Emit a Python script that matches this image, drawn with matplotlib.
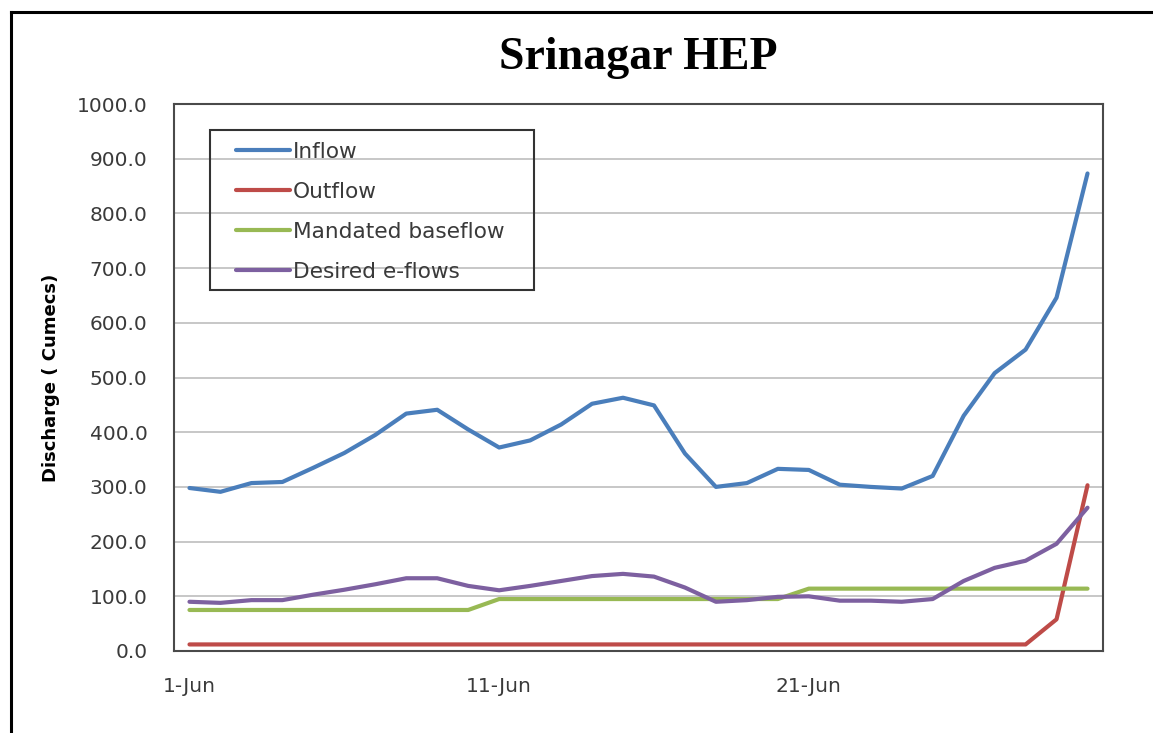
import matplotlib
matplotlib.use("Agg")
import matplotlib.pyplot as plt
from matplotlib.lines import Line2D
from matplotlib.patches import Rectangle

days = list(range(1, 31))
inflow = [298, 291, 307, 309, 335, 362, 395, 434, 441, 405,
          372, 385, 414, 452, 463, 449, 361, 300, 307, 333,
          331, 304, 300, 297, 320, 430, 508, 551, 646, 873]
outflow = [12] * 28 + [58, 303]
baseflow = [75] * 10 + [95] * 10 + [114] * 10
eflows = [90, 88, 93, 93, 103, 112, 122, 133, 133, 119,
          111, 119, 128, 137, 141, 136, 116, 90, 93, 99,
          100, 92, 92, 90, 95, 128, 152, 165, 196, 262]
series_names = ["Inflow", "Outflow", "Mandated baseflow", "Desired e-flows"]
colors = ["#4A7EBB", "#BE4B48", "#98B954", "#7D60A0"]
xtick_pos = [1, 11, 21]
xtick_labels = ["1-Jun", "11-Jun", "21-Jun"]
yticks = [0, 100, 200, 300, 400, 500, 600, 700, 800, 900, 1000]

W, H = 1153, 733
fig = plt.figure(figsize=(W / 100, H / 100), dpi=100)
fig.patch.set_facecolor("white")

# outer frame (top and left edges visible)
fig.add_artist(Line2D([11 / W, 11 / W], [0, 1 - 12 / H], transform=fig.transFigure,
                      color="black", lw=2.2))
fig.add_artist(Line2D([11 / W, 1], [1 - 12 / H, 1 - 12 / H], transform=fig.transFigure,
                      color="black", lw=2.2))

left, right, top, bottom = 174, 1103, 104, 651
aw, ah = right - left, bottom - top
ax = fig.add_axes([left / W, 1 - bottom / H, aw / W, ah / H])


def ax_frac(px, py):
    return (px - left) / aw, 1 - (py - top) / ah


for vals, name, c in zip([inflow, outflow, baseflow, eflows], series_names, colors):
    ax.plot(days, vals, color=c, lw=3.0, label=name, solid_joinstyle="round",
            solid_capstyle="round")

ax.set_xlim(0.5, 30.5)
ax.set_ylim(0, 1000)
ax.set_yticks(yticks)
ax.set_yticklabels([f"{v:.1f}" for v in yticks])
ax.set_xticks(xtick_pos)
ax.set_xticklabels(xtick_labels)
ax.tick_params(axis="both", length=0, labelsize=14.5, labelcolor="#3a3a3a")
ax.tick_params(axis="y", pad=19)
ax.tick_params(axis="x", pad=19)
for lab in ax.get_xticklabels() + ax.get_yticklabels():
    lab.set_fontfamily("DejaVu Sans")
ax.grid(axis="y", color="#bdbdbd", lw=1.2)
ax.set_axisbelow(True)
for s in ax.spines.values():
    s.set_color("#4a4a4a")
    s.set_linewidth(1.5)

ax.set_ylabel("Discharge ( Cumecs)", fontsize=13, fontweight="bold",
              fontfamily="DejaVu Sans")
ax.yaxis.set_label_coords(-(left - 60) / aw, 0.5)

fig.text(638 / W, 1 - 69 / H, "Srinagar HEP", ha="center", va="baseline",
         fontsize=33, fontweight="bold", fontfamily="Liberation Serif")

# legend box (transparent: gridlines show through)
x0, y0 = ax_frac(210, 290)
x1, y1 = ax_frac(534, 130)
ax.add_patch(Rectangle((x0, y0), x1 - x0, y1 - y0, transform=ax.transAxes,
                       facecolor="none", edgecolor="#333333", lw=1.5, zorder=4))
leg = ax.legend(loc="upper left", bbox_to_anchor=ax_frac(236, 142),
                borderaxespad=0, frameon=False, handlelength=2.5,
                handletextpad=0.12, borderpad=0, labelspacing=0.92,
                prop={"family": "DejaVu Sans", "size": 15.6})
leg.set_zorder(5)
for t in leg.get_texts():
    t.set_color("#3a3a3a")

fig.savefig("out.png", dpi=100)
